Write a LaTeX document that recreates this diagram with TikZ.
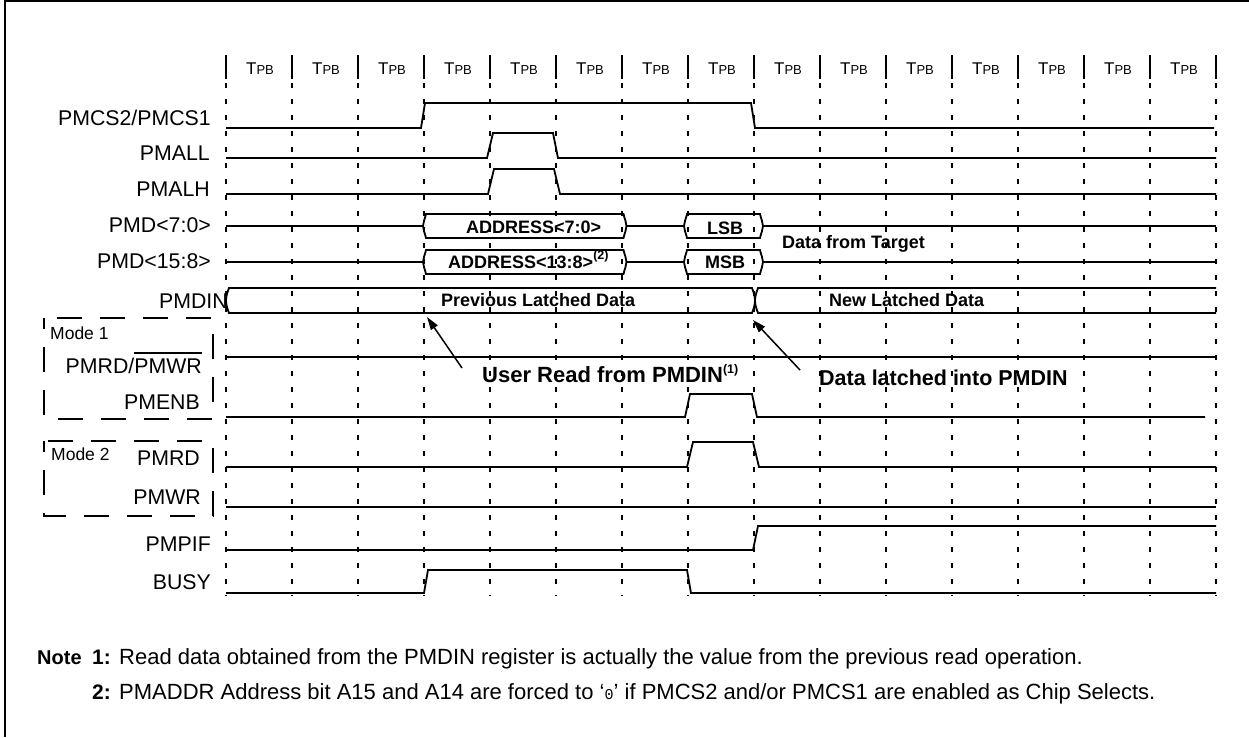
\documentclass[tikz,border=0pt]{standalone}
\usepackage{fontspec}
\setmainfont{Liberation Sans}
\newfontfamily\monofont{Liberation Mono}
\usetikzlibrary{arrows.meta}
\newcommand\ovl[1]{\vbox{\hrule height 1.4pt\kern 4.5pt\hbox{#1}}}
\newcommand\tpbtxt{{\fontsize{17}{19}\selectfont T\fontsize{13}{15}\selectfont PB}}
\newcommand\supr[1]{\raisebox{9pt}{\fontsize{12.5}{13}\selectfont(#1)}}
% bus box: x1, x2, ytop, ybot
\newcommand\BusBox[4]{%
  \draw[sig] ({#1+3},#3) -- ({#2-3},#3)
    .. controls ({#2-2},{#3+5}) and ({#2},{(#3+#4)/2-4}) .. ({#2},{(#3+#4)/2})
    .. controls ({#2},{(#3+#4)/2+4}) and ({#2-2},{#4-5}) .. ({#2-3},#4)
    -- ({#1+3},#4)
    .. controls ({#1+2},{#4-5}) and ({#1},{(#3+#4)/2+4}) .. ({#1},{(#3+#4)/2})
    .. controls ({#1},{(#3+#4)/2-4}) and ({#1+2},{#3+5}) .. cycle;}
\begin{document}
\begin{tikzpicture}[x=1pt,y=-1pt,
  sig/.style={line width=1.8pt},
  gridln/.style={line width=2pt, dash pattern=on 5pt off 11pt},
  hdr/.style={line width=2pt},
  lab/.style={anchor=base east, inner sep=0pt, font=\fontsize{21.3}{24}\selectfont},
  modelab/.style={anchor=base west, inner sep=0pt, font=\fontsize{17.5}{20}\selectfont},
  btxt/.style={anchor=base west, inner sep=0pt, font=\bfseries\fontsize{18}{22}\selectfont},
  bigtxt/.style={anchor=base west, inner sep=0pt, font=\bfseries\fontsize{22}{26}\selectfont},
  modebox/.style={line width=2pt, dash pattern=on 25pt off 18pt, dash phase=14pt},
  arr/.style={line width=1.5pt, -{Triangle[length=13pt,width=8pt]}},
  notetxt/.style={anchor=base west, inner sep=0pt, font=\fontsize{22}{24}\selectfont},
  notenum/.style={anchor=base east, inner sep=0pt, font=\bfseries\fontsize{21}{24}\selectfont},
]
\useasboundingbox (0,0) rectangle (1249,737);
% frame
\draw[line width=2pt] (5,737) -- (5,1) -- (1249,1);

% grid and header
\foreach \k in {0,...,15} {
  \pgfmathsetmacro\gx{226+66*\k}
  \draw[hdr] (\gx,55) -- (\gx,79);
  \draw[gridln] (\gx,83) -- (\gx,596);
}
\foreach \k in {0,...,14} {
  \node[anchor=base, inner sep=0pt] (tpb\k) at ({260+66*\k},74) {\tpbtxt};
}

% signal labels
\node[lab] (lCS)   at (211,125) {PMCS2/PMCS1};
\node[lab] (lALL)  at (210,160) {PMALL};
\node[lab] (lALH)  at (210,196) {PMALH};
\node[lab] (lD70)  at (211,232) {PMD<7:0>};
\node[lab] (lD158) at (211,268) {PMD<15:8>};
\node[lab] (lDIN)  at (228,308) {PMDIN};
\node[lab] (lRDWR) at (202,373) {PMRD/\ovl{PMWR}};
\node[lab] (lENB)  at (200,409) {PMENB};
\node[lab] (lRD)   at (200,465) {PMRD};
\node[lab] (lWR)   at (201,504) {PMWR};
\node[lab] (lPIF)  at (211,551) {PMPIF};
\node[lab] (lBUSY) at (211,589) {BUSY};

% mode boxes
\draw[modebox] (44,318) rectangle (213,419);
\node[modelab] (m1) at (50,339) {Mode 1};
\draw[modebox] (44,441) rectangle (213,516);
\node[modelab] (m2) at (51,460) {Mode 2};

% PMCS2/PMCS1
\draw[sig] (226,128) -- (421,128) -- (425,103) -- (751,103) -- (755,128) -- (1214,128);
% PMALL
\draw[sig] (226,158) -- (487,158) -- (493,133) -- (553,133) -- (558,158) -- (1216,158);
% PMALH
\draw[sig] (226,194) -- (488,194) -- (494,169) -- (554,169) -- (560,194) -- (1216,194);

% PMD<7:0>
\draw[sig] (226,226) -- (423,226);
\BusBox{423}{626.5}{214}{238}
\draw[sig] (626.5,226) -- (684,226);
\BusBox{684}{763}{214}{238}
\draw[sig] (763,226) -- (1216,226);
% PMD<15:8>
\draw[sig] (226,262) -- (423,262);
\BusBox{423}{626.5}{250}{274}
\draw[sig] (626.5,262) -- (684,262);
\BusBox{684}{763}{250}{274}
\draw[sig] (763,262) -- (1216,262);

\node[btxt] (addrlo) at (466,233) {ADDRESS<7:0>};
\node[btxt] (addrhi) at (448,268) {ADDRESS<13:8>\supr{2}};
\node[btxt] (lsb) at (707,234) {LSB};
\node[btxt] (msb) at (705,268) {MSB};
\node[btxt] (dft) at (782,248) {Data from Target};

% PMDIN
\draw[sig] (229,288) -- (752,288)
  .. controls (754,293) and (755,297) .. (755,300.5)
  .. controls (755,304) and (754,308) .. (752,313)
  -- (229,313)
  .. controls (227,308) and (226,304) .. (226,300.5)
  .. controls (226,297) and (227,293) .. cycle;
\draw[sig] (1216,288) -- (758,288)
  .. controls (756,293) and (755,297) .. (755,300.5)
  .. controls (755,304) and (756,308) .. (758,313) -- (1216,313);
\node[btxt] (prev) at (441,306) {Previous Latched Data};
\node[btxt] (newd) at (829,306) {New Latched Data};

% PMRD/PMWR
\draw[sig] (226,357) -- (1216,357);
% PMENB
\draw[sig] (226,417) -- (685,417) -- (690,394) -- (752,394) -- (757,417) -- (1205,417);
% PMRD
\draw[sig] (226,467) -- (687,467) -- (693,442) -- (753,442) -- (759,467) -- (1216,467);
% PMWR
\draw[sig] (226,507) -- (1216,507);
% PMPIF
\draw[sig] (226,550) -- (753,550) -- (758,526) -- (1216,526);
% BUSY
\draw[sig] (226,593) -- (424,593) -- (428,570) -- (687,570) -- (691,593) -- (1216,593);

% annotations
\node[bigtxt] (urd) at (482,382) {User Read from PMDIN\supr{1}};
\node[anchor=base west, inner sep=0pt, font=\bfseries\fontsize{21.5}{26}\selectfont] (dl) at (819,385) {Data latched into PMDIN};
\coordinate (urtail) at (462,368);
\coordinate (urtip) at (427,317);
\coordinate (dltail) at (800,370);
\coordinate (dltip) at (753,320);
\draw[arr] (urtail) -- (urtip);
\draw[arr] (dltail) -- (dltip);

% notes
\node[anchor=base west, inner sep=0pt, font=\bfseries\fontsize{20}{24}\selectfont] (note) at (37,664) {Note};
\node[notenum] (n1) at (111,664) {1:};
\node[notetxt] (t1) at (119,664) {Read data obtained from the PMDIN register is actually the value from the previous read operation.};
\node[notenum] (n2) at (111,699) {2:};
\node[notetxt] (t2) at (119,699) {PMADDR Address bit A15 and A14 are forced to ‘{\monofont\fontsize{15}{15}\selectfont 0}’ if PMCS2 and/or PMCS1 are enabled as Chip Selects.};
\end{tikzpicture}
\end{document}
